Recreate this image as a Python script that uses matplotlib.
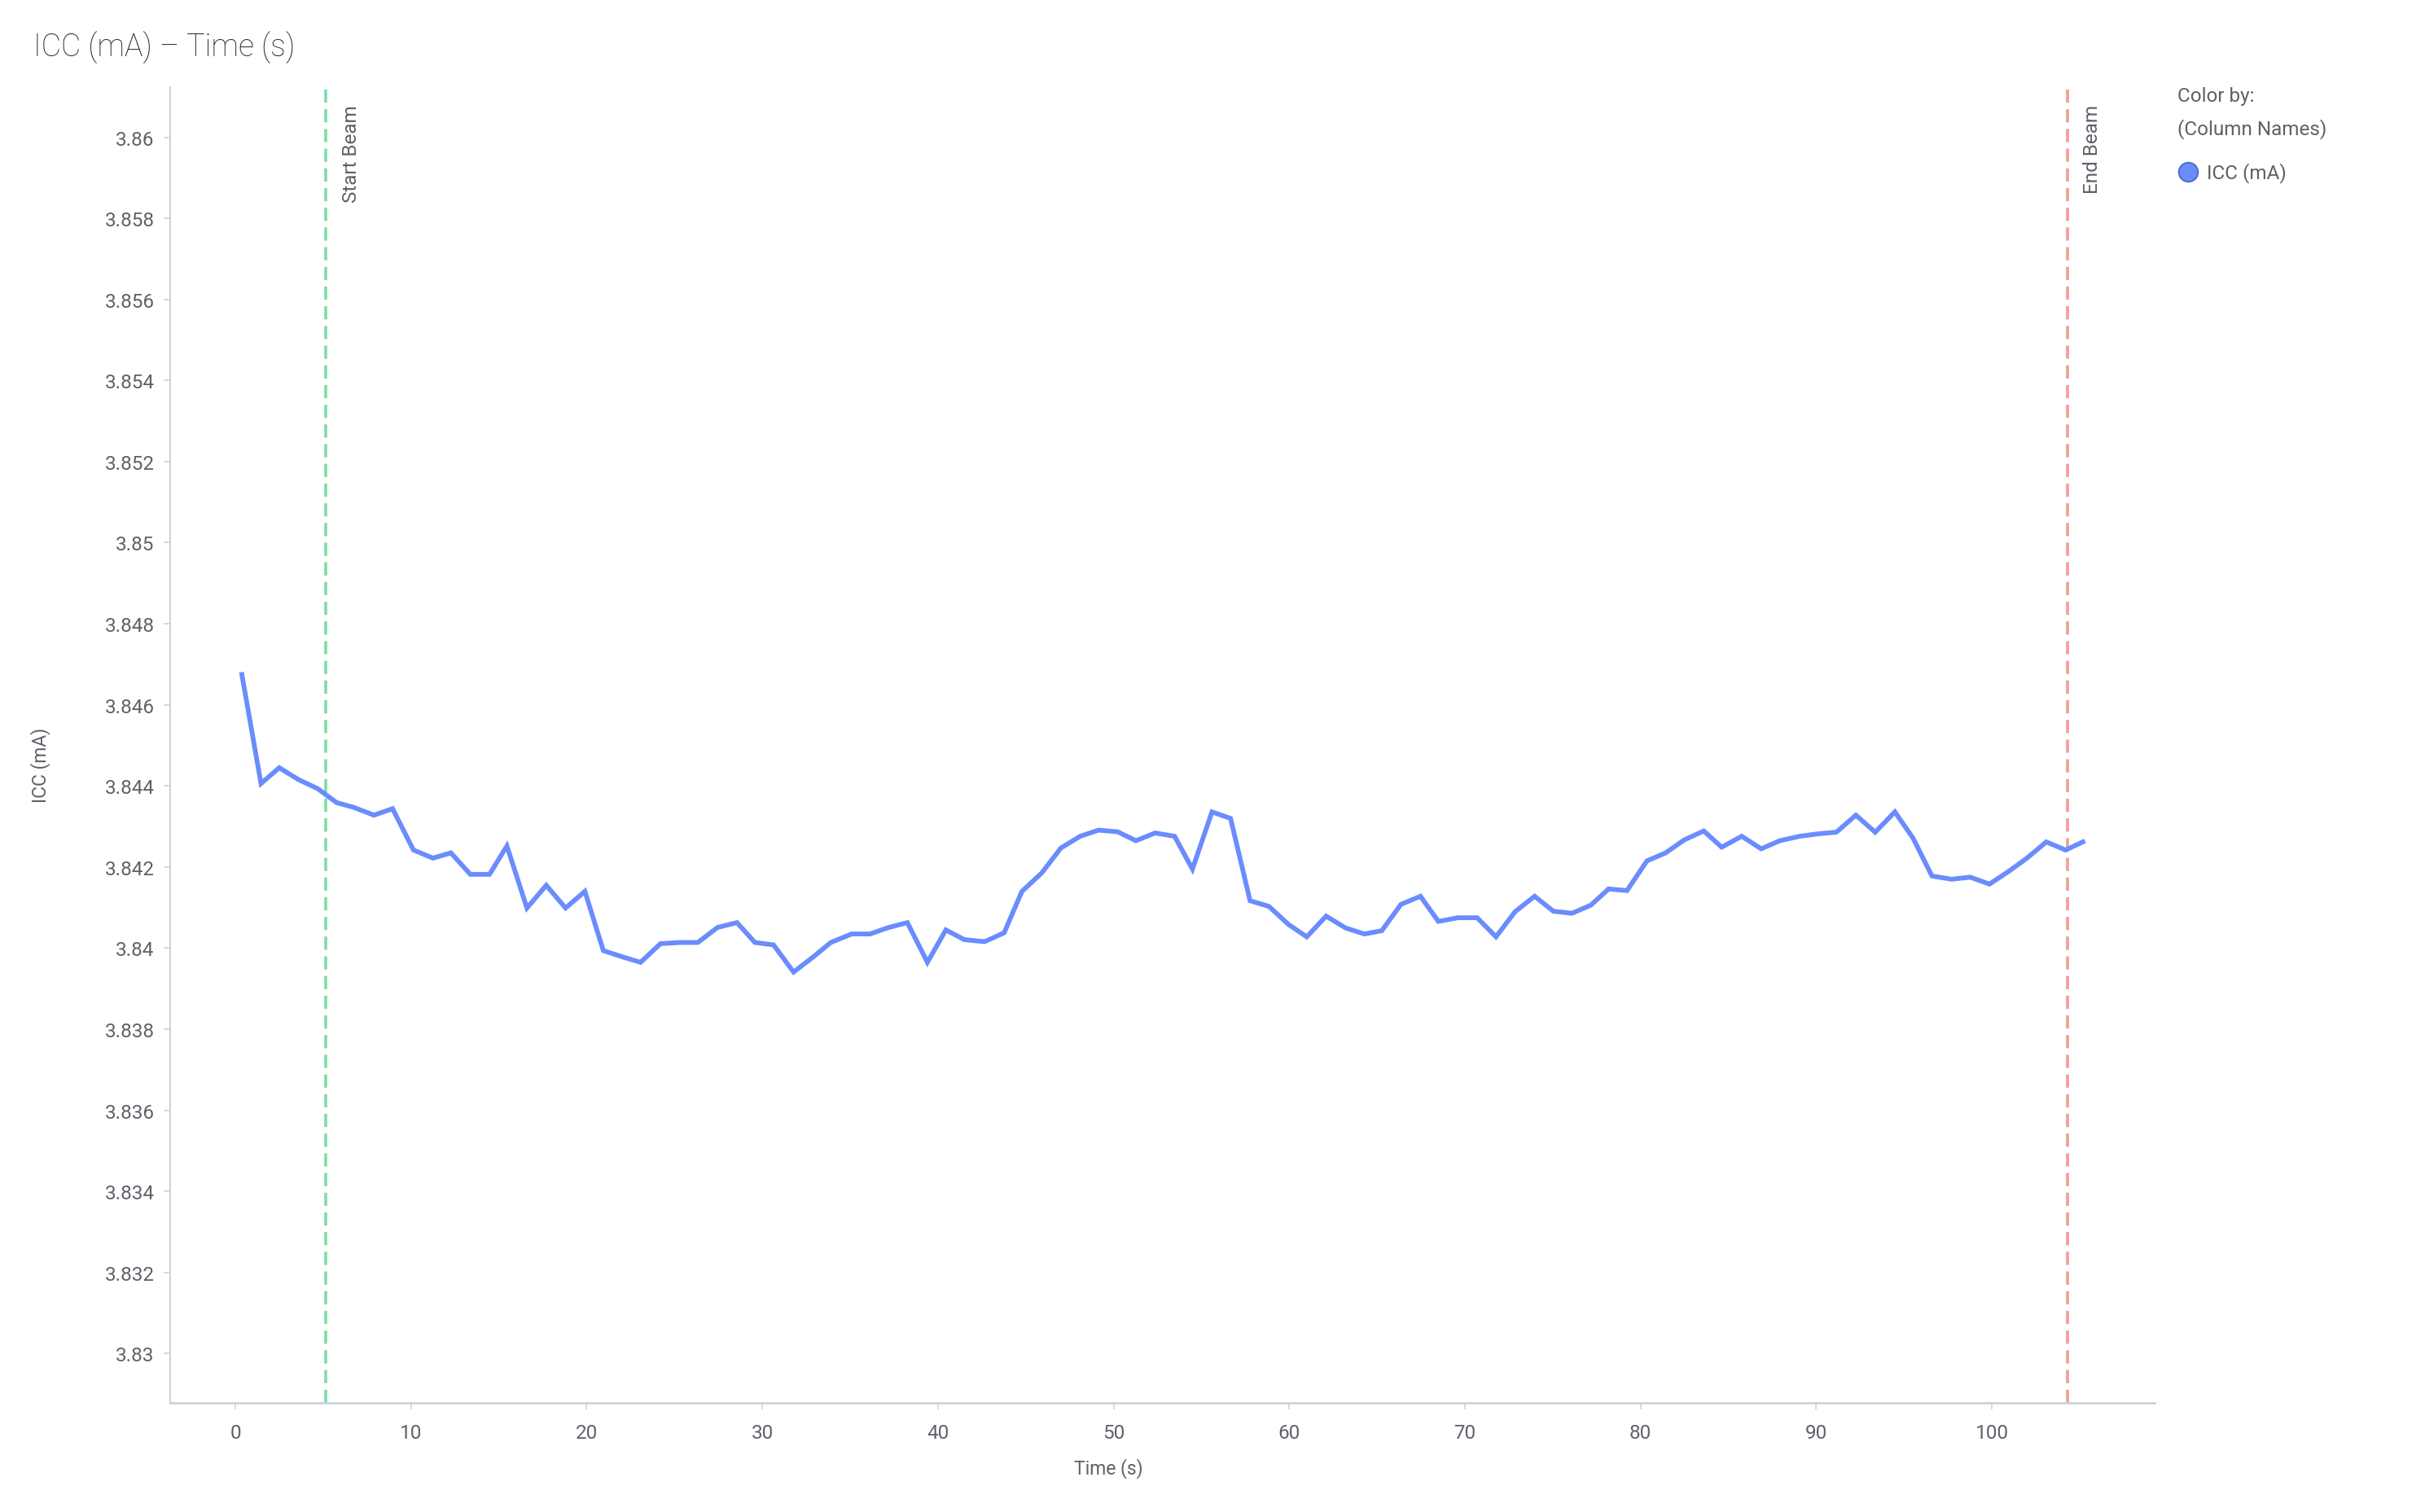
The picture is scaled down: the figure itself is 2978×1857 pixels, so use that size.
import matplotlib
matplotlib.use("Agg")
import matplotlib.pyplot as plt
from matplotlib.lines import Line2D

plt.rcParams['font.family'] = ['Roboto', 'DejaVu Sans']

time_s = [0.37, 1.46, 2.5, 3.58, 4.70, 5.76, 6.75, 7.89, 8.95, 10.14,
          11.25, 12.27, 13.38, 14.47, 15.46, 16.6, 17.7, 18.8, 19.9, 20.95,
          22.0, 23.07, 24.2, 25.3, 26.33, 27.45, 28.56, 29.58, 30.64, 31.78,
          32.89, 33.9, 35.09, 36.13, 37.2, 38.26, 39.4, 40.45, 41.5, 42.66,
          43.77, 44.78, 45.9, 47.0, 48.1, 49.14, 50.23, 51.27, 52.36, 53.47,
          54.49, 55.6, 56.66, 57.77, 58.84, 59.97, 61.0, 62.1, 63.2, 64.28,
          65.27, 66.36, 67.47, 68.49, 69.6, 70.7, 71.77, 72.86, 73.97, 75.04,
          76.1, 77.17, 78.18, 79.23, 80.36, 81.43, 82.49, 83.6, 84.62, 85.76,
          86.87, 87.93, 89.07, 90.13, 91.15, 92.26, 93.36, 94.48, 95.52, 96.59,
          97.7, 98.77, 99.87, 100.98, 102.0, 103.1, 104.2, 105.18]

icc_ma = [3.84675, 3.84406, 3.84445, 3.84416, 3.84393, 3.84359, 3.84347, 3.84328, 3.84344, 3.84242,
          3.84222, 3.84235, 3.84182, 3.84182, 3.84252, 3.84099, 3.84155, 3.84099, 3.84140, 3.83994,
          3.83979, 3.83965, 3.84011, 3.84014, 3.84014, 3.84051, 3.84063, 3.84014, 3.84008, 3.83941,
          3.83978, 3.84014, 3.84035, 3.84035, 3.84051, 3.84063, 3.83965, 3.84045, 3.84021, 3.84016,
          3.84038, 3.84140, 3.84185, 3.84247, 3.84276, 3.84291, 3.84287, 3.84265, 3.84284, 3.84276,
          3.84195, 3.84336, 3.84320, 3.84117, 3.84103, 3.84058, 3.84028, 3.84079, 3.84050, 3.84035,
          3.84043, 3.84108, 3.84128, 3.84066, 3.84075, 3.84075, 3.84028, 3.84090, 3.84128, 3.84091,
          3.84086, 3.84106, 3.84146, 3.84142, 3.84215, 3.84235, 3.84267, 3.84289, 3.84249, 3.84276,
          3.84245, 3.84265, 3.84276, 3.84282, 3.84286, 3.84328, 3.84286, 3.84336, 3.84271, 3.84178,
          3.84170, 3.84175, 3.84158, 3.84190, 3.84222, 3.84262, 3.84242, 3.84262]

x_ticks = [0, 10, 20, 30, 40, 50, 60, 70, 80, 90, 100]
y_ticks = [3.83, 3.832, 3.834, 3.836, 3.838, 3.84, 3.842, 3.844, 3.846,
           3.848, 3.85, 3.852, 3.854, 3.856, 3.858, 3.86]
y_tick_labels = ["3.83", "3.832", "3.834", "3.836", "3.838", "3.84", "3.842", "3.844",
                 "3.846", "3.848", "3.85", "3.852", "3.854", "3.856", "3.858", "3.86"]
start_beam = 5.15
end_beam = 104.3

LINE_BLUE = "#6a8cfd"
GREEN = "#78e0a2"
RED = "#f59c90"
AXIS_GRAY = "#cfd1dc"
TEXT_GRAY = "#5f6169"

W, H = 2978, 1858
fig = plt.figure(figsize=(W / 100, H / 100), dpi=100)
ax = fig.add_axes([209 / W, 1 - 1724 / H, (2646 - 209) / W, (1724 - 108) / H])

ax.plot(time_s, icc_ma, color=LINE_BLUE, lw=4.2, solid_joinstyle='miter', zorder=3)

ax.axvline(start_beam, color=GREEN, lw=2.6, dashes=(4.5, 2.2), zorder=2)
ax.axvline(end_beam, color=RED, lw=2.6, dashes=(4.5, 2.2), zorder=2)

ax.set_xlim(-3.71, 109.27)
ax.set_ylim(3.828785, 3.861235)

ax.set_xticks(x_ticks)
ax.set_xticklabels([str(v) for v in x_ticks])
ax.set_yticks(y_ticks)
ax.set_yticklabels(y_tick_labels)

for side in ['top', 'right']:
    ax.spines[side].set_visible(False)
ax.spines['left'].set_color(AXIS_GRAY)
ax.spines['left'].set_linewidth(1.4)
ax.spines['bottom'].set_color(AXIS_GRAY)
ax.spines['bottom'].set_linewidth(2.0)

ax.tick_params(axis='both', colors=AXIS_GRAY, labelcolor=TEXT_GRAY, length=6, width=1.2,
               labelsize=17.5)
ax.tick_params(axis='y', pad=8)
ax.tick_params(axis='x', pad=12)

trans_x = ax.get_xaxis_transform()
ax.text(start_beam + 0.9, 0.987, "Start Beam", rotation=90, ha='left', va='top',
        transform=trans_x, fontsize=17.5, color=TEXT_GRAY)
ax.text(end_beam + 0.9, 0.987, "End Beam", rotation=90, ha='left', va='top',
        transform=trans_x, fontsize=17.5, color=TEXT_GRAY)

fig.text(50 / W, 1 - 940 / H, "ICC (mA)", rotation=90, ha='center', va='center',
         fontsize=16.5, color=TEXT_GRAY)
fig.text(1361 / W, 1 - 1804 / H, "Time (s)", ha='center', va='center',
         fontsize=16.5, color=TEXT_GRAY)

fig.text(41 / W, 1 - 58 / H, "ICC (mA) \u2013 Time (s)", ha='left', va='center',
         fontsize=27, fontweight='light', color="#2a2a30")

fig.text(2674 / W, 1 - 119 / H, "Color by:", ha='left', va='center', fontsize=17.5,
         color=TEXT_GRAY)
fig.text(2674 / W, 1 - 159 / H, "(Column Names)", ha='left', va='center', fontsize=17.5,
         color=TEXT_GRAY)
fig.add_artist(Line2D([2686.5 / W], [1 - 212 / H], marker='o', markersize=17,
                      markerfacecolor="#6a8cfd", markeredgecolor="#4c67c4",
                      markeredgewidth=1.3, linestyle='none', transform=fig.transFigure))
fig.text(2710 / W, 1 - 213 / H, "ICC (mA)", ha='left', va='center', fontsize=17.5,
         color=TEXT_GRAY)

fig.savefig("out.png", dpi=100, facecolor='white')
